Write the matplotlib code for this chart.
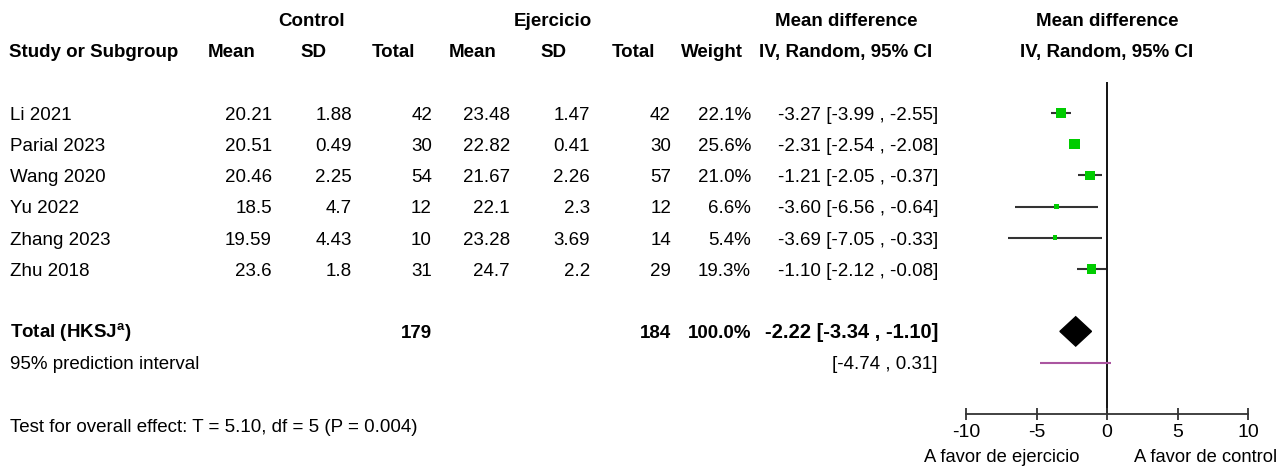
import numpy as np
import matplotlib.pyplot as plt
from matplotlib.patches import Polygon

plt.rcParams['font.family'] = ['Liberation Sans', 'DejaVu Sans']
plt.rcParams['mathtext.fontset'] = 'custom'
plt.rcParams['mathtext.rm'] = 'Liberation Sans'
plt.rcParams['mathtext.bf'] = 'Liberation Sans:bold'
plt.rcParams['axes.unicode_minus'] = False

# study data
studies = ['Li 2021', 'Parial 2023', 'Wang 2020', 'Yu 2022', 'Zhang 2023', 'Zhu 2018']
ctrl_mean = ['20.21', '20.51', '20.46', '18.5', '19.59', '23.6']
ctrl_sd = ['1.88', '0.49', '2.25', '4.7', '4.43', '1.8']
ctrl_n = [42, 30, 54, 12, 10, 31]
ex_mean = ['23.48', '22.82', '21.67', '22.1', '23.28', '24.7']
ex_sd = ['1.47', '0.41', '2.26', '2.3', '3.69', '2.2']
ex_n = [42, 30, 57, 12, 14, 29]
weight = [22.1, 25.6, 21.0, 6.6, 5.4, 19.3]
md = [-3.27, -2.31, -1.21, -3.60, -3.69, -1.10]
ci_lo = [-3.99, -2.54, -2.05, -6.56, -7.05, -2.12]
ci_hi = [-2.55, -2.08, -0.37, -0.64, -0.33, -0.08]

# pooled estimate and prediction interval
total_md, total_lo, total_hi = -2.22, -3.34, -1.10
pred_lo, pred_hi = -4.74, 0.31
overall_test = 'Test for overall effect: T = 5.10, df = 5 (P = 0.004)'

W, H = 1282, 468
fig = plt.figure(figsize=(W / 100, H / 100), dpi=100)

# rows are spaced 31.2 px apart, first study row centred at y=113 px
pitch, y0 = 31.2, 113


def row_lim(top_px, bot_px):
    return (bot_px - y0) / pitch, (top_px - y0) / pitch


# table of text on a full-figure axes (x in px, y in rows)
tab = fig.add_axes([0, 0, 1, 1])
tab.set_xlim(0, W)
tab.set_ylim(*row_lim(0, H))
tab.axis('off')

base = 0.22  # baseline offset below row centre
fs = 13.5


def put(x, r, s, ha='right', bold=False, size=fs):
    tab.text(x, r + base, s, ha=ha, va='baseline', fontsize=size,
             fontweight='bold' if bold else 'normal', color='black')


# headers
put(312, -3, 'Control', 'center', True)
put(553, -3, 'Ejercicio', 'center', True)
put(846, -3, 'Mean difference', 'center', True)
put(1107, -3, 'Mean difference', 'center', True)
put(9, -2, 'Study or Subgroup', 'left', True)
for x, s in [(232, 'Mean'), (313, 'SD'), (393, 'Total'), (473, 'Mean'),
             (553, 'SD'), (633, 'Total'), (712, 'Weight'),
             (846, 'IV, Random, 95% CI'), (1107, 'IV, Random, 95% CI')]:
    put(x, -2, s, 'center', True)

# study rows
for i, name in enumerate(studies):
    put(10, i, name, 'left')
    put(272, i, ctrl_mean[i])
    put(352, i, ctrl_sd[i])
    put(432, i, str(ctrl_n[i]))
    put(510, i, ex_mean[i])
    put(590, i, ex_sd[i])
    put(671, i, str(ex_n[i]))
    put(751, i, f'{weight[i]:.1f}%')
    put(938, i, f'{md[i]:.2f} [{ci_lo[i]:.2f} , {ci_hi[i]:.2f}]')

# total row
r_tot, r_pred = 7, 8
put(10, r_tot, r'Total (HKSJ$^{\mathbf{a}}$)', 'left', True)
put(432, r_tot, str(sum(ctrl_n)), bold=True)
put(671, r_tot, str(sum(ex_n)), bold=True)
put(751, r_tot, f'{sum(weight):.1f}%', bold=True)
put(938, r_tot, f'{total_md:.2f} [{total_lo:.2f} , {total_hi:.2f}]', bold=True, size=14.5)
put(10, r_pred, '95% prediction interval', 'left')
put(938, r_pred, f'[{pred_lo:.2f} , {pred_hi:.2f}]')
put(10, 10, overall_test, 'left')

# forest panel: -10 at x=966 px, 10 at x=1248 px, axis line at y=414 px
ax = fig.add_axes([966 / W, (H - 414) / H, (1248 - 966) / W, (414 - 82) / H])
ax.set_xlim(-10, 10)
ax.set_ylim(*row_lim(82, 414))
ax.patch.set_visible(False)
for side in ['left', 'right', 'top']:
    ax.spines[side].set_visible(False)
ax.spines['bottom'].set_color('#333333')
ax.spines['bottom'].set_linewidth(1.3)
ax.set_yticks([])
ax.set_xticks([-10, -5, 0, 5, 10])
ax.tick_params(axis='x', direction='inout', length=9, width=1.3, color='#333333',
               labelsize=14, pad=3)

ax.axvline(0, color='black', lw=1.3, zorder=1)

rows = np.arange(len(studies))
ax.hlines(rows, ci_lo, ci_hi, color='#333333', lw=1.5, zorder=2)
ax.scatter(md, rows, marker='s', s=2.2 * np.array(weight), color='#00cc00',
           edgecolors='none', zorder=3)

dh = 0.47
ax.add_patch(Polygon([[total_lo, r_tot], [total_md, r_tot - dh],
                      [total_hi, r_tot], [total_md, r_tot + dh]],
                     closed=True, color='black', zorder=3))
ax.hlines(r_pred, pred_lo, pred_hi, color='#aa55a0', lw=1.5, zorder=2)

ax.text(-1.95, 11.03, 'A favor de ejercicio', ha='right', va='center', fontsize=13.2)
ax.text(1.95, 11.03, 'A favor de control', ha='left', va='center', fontsize=13.2)

fig.savefig('out.png', dpi=100)
